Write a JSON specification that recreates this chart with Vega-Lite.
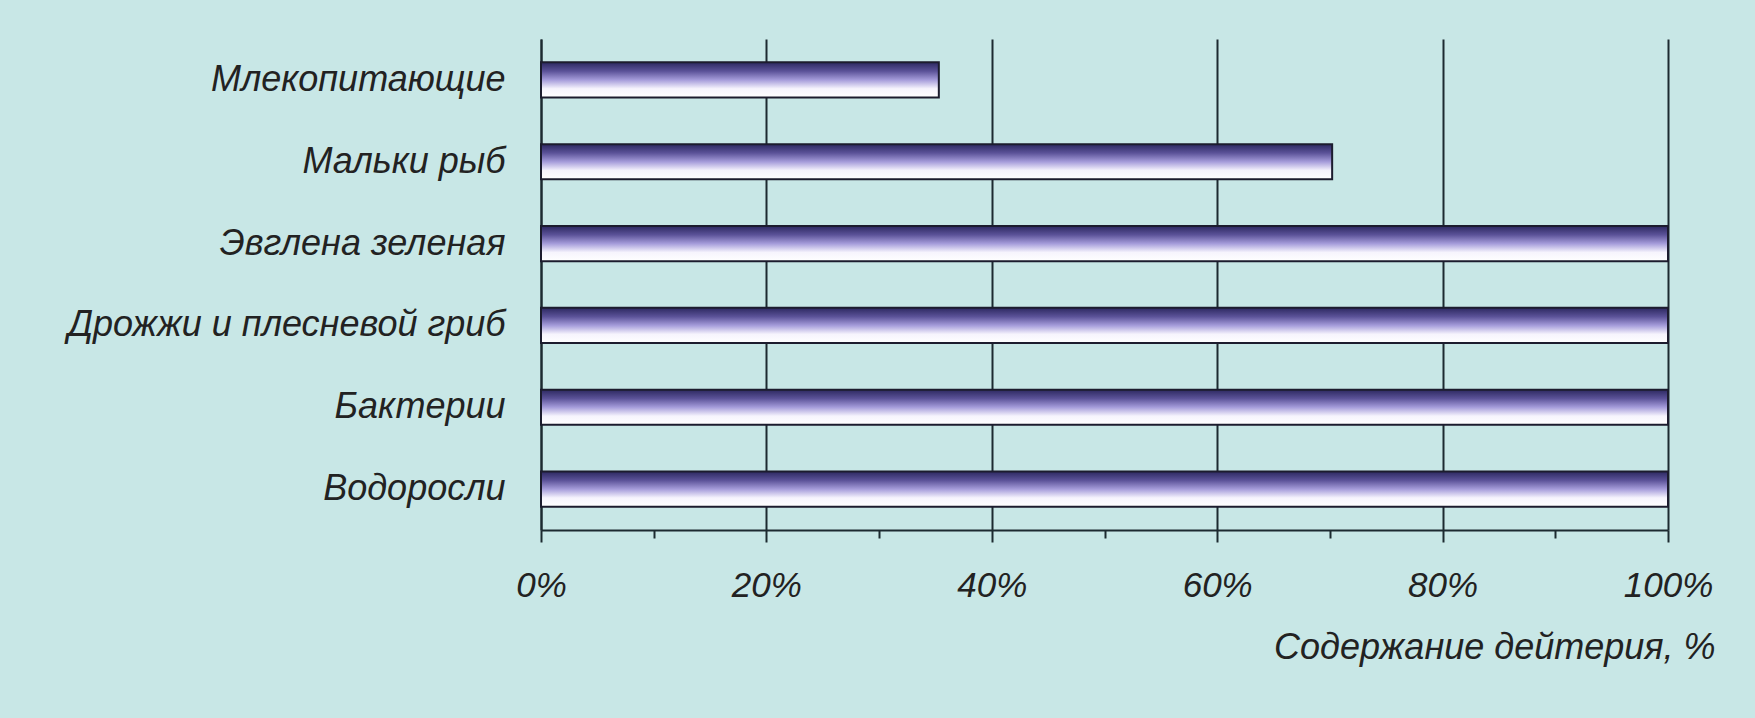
{
  "$schema": "https://vega.github.io/schema/vega-lite/v6.json",
  "width": 1127,
  "height": 491,
  "autosize": {"type": "none"},
  "padding": {"left": 541, "top": 39, "right": 87, "bottom": 188},
  "background": "#c8e7e6",
  "config": {
    "view": {"stroke": null},
    "font": "Liberation Sans"
  },
  "data": {
    "values": [
      {"organism": "Млекопитающие", "deuterium": 35.3},
      {"organism": "Мальки рыб", "deuterium": 70.2},
      {"organism": "Эвглена зеленая", "deuterium": 100},
      {"organism": "Дрожжи и плесневой гриб", "deuterium": 100},
      {"organism": "Бактерии", "deuterium": 100},
      {"organism": "Водоросли", "deuterium": 100}
    ]
  },
  "mark": {
    "type": "bar",
    "stroke": "#1c1c2e",
    "strokeWidth": 2,
    "fill": {
      "gradient": "linear",
      "x1": 0, "y1": 0, "x2": 0, "y2": 1,
      "stops": [
        {"offset": 0, "color": "#2c2860"},
        {"offset": 0.25, "color": "#5b5298"},
        {"offset": 0.5, "color": "#a59cda"},
        {"offset": 0.75, "color": "#f6f4fd"},
        {"offset": 1, "color": "#ffffff"}
      ]
    }
  },
  "encoding": {
    "y": {
      "field": "organism",
      "type": "nominal",
      "sort": null,
      "scale": {"paddingInner": 0.57, "paddingOuter": 0.285},
      "axis": {
        "title": null,
        "ticks": false,
        "domain": true,
        "domainColor": "#1c2a30",
        "domainWidth": 2,
        "labelPadding": 36,
        "labelFont": "Liberation Sans",
        "labelFontStyle": "italic",
        "labelFontSize": 36,
        "labelColor": "#222222",
        "labelLimit": 600
      }
    },
    "x": {
      "field": "deuterium",
      "type": "quantitative",
      "scale": {"domain": [0, 100], "nice": false},
      "axis": {
        "values": [0, 10, 20, 30, 40, 50, 60, 70, 80, 90, 100],
        "labelExpr": "datum.value % 20 == 0 ? datum.value + '%' : ''",
        "labelOverlap": false,
        "labelFlush": false,
        "labelBound": false,
        "labelFont": "Liberation Sans",
        "labelFontStyle": "italic",
        "labelFontSize": 35,
        "labelColor": "#222222",
        "labelPadding": 26,
        "domainColor": "#1c2a30",
        "domainWidth": 2,
        "tickColor": "#1c2a30",
        "tickWidth": 2,
        "tickSize": {"condition": {"test": "datum.value % 20 != 0", "value": 8}, "value": 12},
        "grid": true,
        "gridColor": "#1c2a30",
        "gridWidth": 2,
        "gridOpacity": {"condition": {"test": "datum.value % 20 != 0", "value": 0}, "value": 1},
        "title": "Содержание дейтерия, %",
        "titleFont": "Liberation Sans",
        "titleFontStyle": "italic",
        "titleFontWeight": "normal",
        "titleFontSize": 36,
        "titleColor": "#222222",
        "titleAlign": "right",
        "titleAnchor": "end",
        "titleBaseline": "alphabetic",
        "titleX": 1174,
        "titleY": 128
      }
    }
  }
}
